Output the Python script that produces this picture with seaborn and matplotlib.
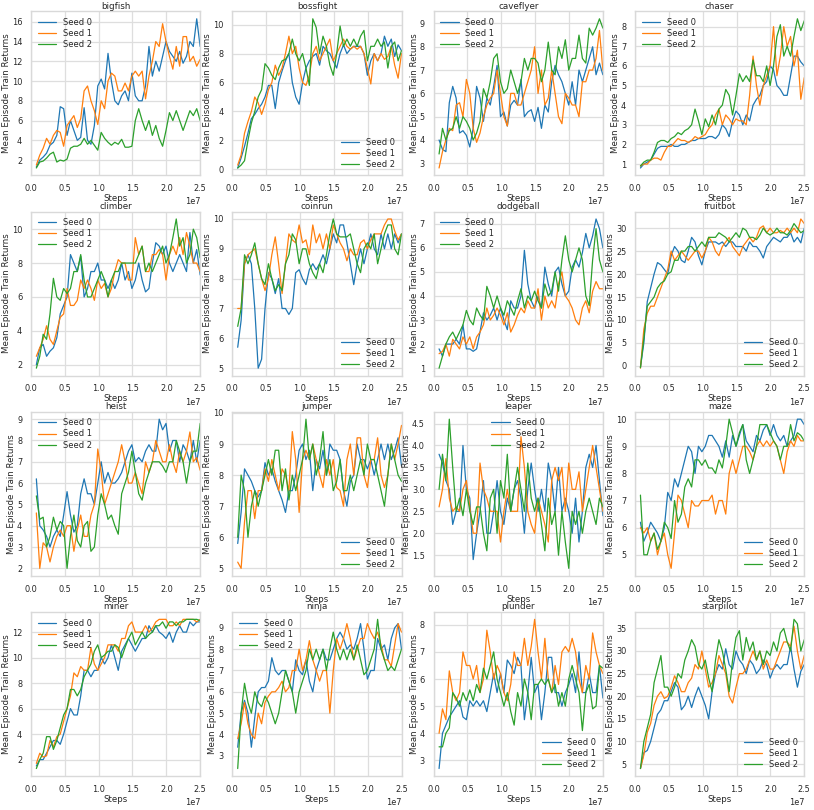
import numpy as np
import pandas as pd
import matplotlib
matplotlib.use("Agg")
import matplotlib.pyplot as plt
import seaborn as sns

envs = ["bigfish", "bossfight", "caveflyer", "chaser", "climber", "coinrun",
        "dodgeball", "fruitbot", "heist", "jumper", "leaper", "maze",
        "miner", "ninja", "plunder", "starpilot"]
seed_labels = ["Seed 0", "Seed 1", "Seed 2"]
seed_colors = ["#1f77b4", "#ff7f0e", "#2ca02c"]
legend_locs = ["upper left", "lower right", "upper left", "upper left",
               "upper left", "lower right", "upper left", "lower right",
               "upper left", "lower right", "upper center", "lower right",
               "upper left", "upper left", "lower right", "lower right"]

steps = np.linspace(0.08e7, 2.5e7, 49)

bigfish_s0 = [1.3, 2.0, 2.3, 2.7, 3.5, 3.8, 4.5, 7.4, 7.2, 4.5, 6.0, 5.0, 4.0, 4.3, 7.3,
              4.0, 3.6, 5.5, 9.5, 10.2, 9.2, 12.8, 10.0, 8.0, 7.6, 8.5, 9.0, 8.0, 10.8, 8.5,
              8.0, 8.0, 9.5, 13.5, 10.5, 12.0, 11.0, 12.5, 14.0, 13.0, 12.5, 12.0, 13.0, 11.8, 12.5,
              14.0, 13.5, 16.3, 13.5]
bigfish_s1 = [1.5, 2.5, 3.2, 4.2, 3.6, 4.5, 5.0, 4.8, 3.4, 5.5, 6.0, 6.5, 5.3, 6.2, 9.0,
              9.5, 8.0, 7.0, 5.6, 8.0, 7.2, 10.0, 10.8, 10.5, 9.0, 9.0, 9.8, 9.0, 10.5, 11.0,
              10.5, 11.0, 8.2, 10.5, 12.0, 14.0, 13.5, 15.8, 14.0, 12.5, 11.2, 13.5, 11.5, 14.5, 14.5,
              12.0, 12.5, 11.5, 12.2]
bigfish_s2 = [1.2, 1.8, 1.9, 2.2, 2.6, 2.8, 1.8, 2.0, 1.9, 2.1, 3.2, 3.4, 3.4, 3.6, 4.2,
              3.6, 4.0, 3.5, 3.0, 4.8, 4.2, 3.8, 3.5, 3.8, 3.6, 4.1, 3.3, 3.3, 3.4, 6.0,
              7.2, 6.0, 5.0, 6.0, 4.5, 5.5, 4.2, 3.4, 5.0, 6.8, 6.0, 7.0, 6.0, 5.0, 6.0,
              7.0, 6.5, 7.2, 6.0]

bossfight_s0 = [0.1, 0.8, 1.6, 2.5, 3.5, 3.8, 4.2, 4.5, 5.0, 5.8, 5.8, 4.2, 6.0, 6.8, 7.5,
                8.0, 6.0, 5.0, 4.5, 6.0, 7.0, 7.5, 7.8, 8.0, 7.2, 8.5, 8.2, 8.0, 7.5, 7.0,
                8.0, 8.6, 8.0, 8.3, 8.5, 8.5, 8.5, 8.0, 6.5, 7.5, 8.0, 7.5, 8.0, 9.2, 8.5,
                9.0, 7.8, 8.6, 8.2]
bossfight_s1 = [0.3, 1.0, 2.5, 3.3, 4.0, 5.0, 4.6, 3.8, 4.5, 5.5, 6.0, 7.2, 6.5, 7.0, 8.0,
                9.2, 8.0, 8.5, 7.0, 6.0, 5.8, 6.5, 8.0, 8.5, 7.5, 8.0, 8.5, 9.0, 7.5, 8.0,
                8.5, 9.0, 8.5, 8.3, 8.5, 8.3, 8.5, 8.0, 7.0, 5.9, 8.0, 7.5, 8.0, 7.6, 7.8,
                8.5, 7.2, 6.3, 8.0]
bossfight_s2 = [0.1, 0.3, 0.6, 2.0, 3.2, 4.0, 5.0, 5.5, 7.3, 7.0, 6.5, 6.2, 7.0, 7.5, 7.6,
                8.0, 9.0, 8.0, 7.5, 8.0, 7.0, 5.8, 10.4, 9.8, 8.0, 9.2, 8.5, 7.2, 6.5, 8.0,
                9.9, 8.5, 9.0, 8.5, 9.0, 8.5, 9.2, 9.6, 7.5, 8.5, 8.5, 9.0, 8.5, 8.8, 7.0,
                8.5, 8.8, 7.5, 8.2]

caveflyer_s0 = [4.0, 3.6, 3.5, 5.6, 6.3, 5.8, 4.3, 4.4, 4.2, 3.7, 4.5, 6.3, 5.8, 4.8, 5.8,
                5.5, 6.3, 7.2, 5.0, 5.2, 4.6, 5.5, 5.7, 5.5, 6.6, 5.0, 5.2, 5.3, 4.8, 5.4,
                4.5, 5.5, 5.2, 6.5, 7.2, 6.8, 6.5, 6.0, 5.5, 6.5, 5.5, 7.0, 6.5, 7.0, 7.5,
                8.0, 6.8, 7.3, 6.8]
caveflyer_s1 = [2.8, 3.5, 4.0, 4.5, 4.4, 5.5, 5.6, 5.0, 6.6, 6.0, 4.5, 3.9, 4.3, 5.0, 5.5,
                5.8, 6.0, 7.0, 6.0, 5.0, 4.6, 6.0, 6.0, 5.5, 5.5, 6.0, 6.5, 7.0, 8.0, 6.0,
                7.0, 5.5, 5.8, 7.0, 6.0, 5.0, 4.7, 6.0, 5.8, 5.5, 5.5, 5.0, 6.5, 6.5, 7.0,
                7.0, 7.5, 8.7, 7.0]
caveflyer_s2 = [3.4, 4.5, 4.0, 4.4, 4.5, 5.0, 4.5, 5.0, 4.8, 4.5, 4.0, 4.3, 4.8, 6.2, 5.8,
                6.5, 7.5, 7.7, 6.5, 6.0, 6.2, 7.0, 6.5, 6.0, 6.5, 7.5, 7.0, 7.5, 7.5, 7.3,
                6.5, 7.0, 8.2, 7.0, 6.8, 8.0, 7.5, 8.3, 7.0, 7.5, 7.5, 8.5, 7.5, 7.3, 8.8,
                8.5, 8.8, 9.2, 8.8]

chaser_s0 = [0.8, 1.0, 1.1, 1.2, 1.5, 1.8, 1.9, 1.9, 1.9, 2.0, 1.9, 1.9, 2.0, 2.0, 2.1,
             2.2, 2.2, 2.3, 2.3, 2.3, 2.4, 2.4, 2.3, 2.5, 3.0, 2.8, 2.4, 3.2, 3.7, 3.5,
             3.0, 3.5, 3.2, 4.0, 4.3, 4.5, 5.0, 5.2, 6.0, 5.8, 5.0, 4.8, 4.5, 4.5, 5.5,
             6.5, 6.5, 6.2, 6.0]
chaser_s1 = [0.9, 1.0, 1.0, 1.2, 1.3, 1.3, 1.2, 1.6, 1.9, 1.9, 2.1, 2.3, 2.2, 2.2, 2.1,
             2.2, 2.4, 2.3, 2.4, 2.5, 2.8, 3.0, 3.5, 3.8, 3.0, 3.5, 3.3, 3.0, 3.3, 3.2,
             3.2, 3.0, 4.5, 6.5, 5.0, 4.0, 5.0, 5.5, 6.0, 8.0, 5.5, 6.5, 8.0, 7.0, 7.5,
             6.0, 6.8, 4.3, 5.4]
chaser_s2 = [0.9, 1.1, 1.2, 1.2, 1.6, 2.1, 2.2, 2.2, 2.1, 2.3, 2.4, 2.6, 2.5, 2.7, 2.8,
             3.0, 3.8, 3.2, 2.5, 3.3, 2.9, 3.5, 3.0, 3.8, 4.0, 4.8, 4.5, 3.5, 4.5, 5.6,
             5.2, 5.5, 5.2, 6.3, 5.5, 5.5, 5.2, 6.0, 5.0, 6.0, 7.5, 8.1, 6.5, 7.0, 6.5,
             7.5, 8.4, 7.8, 8.3]

climber_s0 = [2.0, 3.0, 3.2, 2.5, 2.8, 3.0, 3.6, 5.0, 5.5, 6.0, 8.5, 8.0, 7.5, 8.4, 6.0,
              6.5, 7.5, 7.5, 8.0, 7.0, 7.0, 6.5, 7.0, 6.5, 7.0, 8.0, 7.0, 7.5, 6.5, 7.0,
              8.0, 7.0, 6.3, 6.5, 8.0, 9.2, 9.0, 8.5, 9.0, 8.0, 7.5, 8.0, 8.5, 8.0, 7.5,
              9.8, 8.0, 8.8, 7.3]
climber_s1 = [2.5, 3.0, 3.5, 4.3, 3.5, 3.2, 4.0, 4.8, 5.0, 6.5, 5.5, 5.5, 5.8, 7.0, 6.5,
              7.0, 6.5, 5.8, 7.0, 6.5, 6.8, 6.0, 6.5, 7.5, 8.2, 8.0, 8.0, 7.0, 7.0, 9.5,
              8.5, 9.0, 7.5, 7.5, 8.5, 8.5, 8.8, 8.5, 7.0, 8.5, 9.0, 8.5, 9.5, 8.5, 9.8,
              9.0, 8.0, 8.0, 7.5]
climber_s2 = [1.8, 2.5, 3.8, 3.5, 5.0, 7.1, 6.0, 5.8, 6.5, 6.2, 6.5, 7.5, 7.5, 8.5, 7.0,
              6.0, 6.0, 6.5, 7.0, 7.5, 7.0, 6.0, 7.0, 7.5, 7.5, 8.0, 8.0, 8.0, 8.0, 8.0,
              8.5, 9.0, 7.5, 8.0, 7.5, 8.0, 8.5, 9.0, 8.0, 8.5, 9.5, 10.6, 9.0, 9.5, 8.0,
              8.5, 10.0, 9.5, 8.3]

coinrun_s0 = [5.7, 6.6, 8.5, 8.8, 8.5, 7.0, 5.0, 5.3, 7.0, 8.2, 8.0, 7.5, 8.0, 7.0, 7.0,
              6.8, 7.0, 8.2, 8.3, 8.0, 7.8, 8.3, 8.5, 8.3, 8.5, 8.8, 8.5, 9.0, 9.5, 9.2,
              9.8, 9.8, 9.2, 8.5, 7.8, 8.5, 9.0, 8.5, 9.0, 9.5, 9.0, 8.8, 9.5, 9.0, 9.5,
              9.0, 9.5, 9.2, 9.5]
coinrun_s1 = [7.0, 7.0, 8.5, 8.8, 8.9, 9.0, 8.5, 8.0, 7.6, 8.0, 8.8, 9.4, 8.5, 7.5, 8.5,
              9.5, 9.3, 9.2, 9.8, 9.2, 9.3, 8.8, 9.8, 9.2, 9.5, 9.0, 9.5, 9.0, 9.8, 9.5,
              9.2, 9.0, 8.6, 9.0, 8.8, 8.8, 9.2, 9.3, 9.0, 9.3, 9.5, 9.5, 9.5, 9.8, 10.0,
              10.0, 9.6, 9.3, 9.5]
coinrun_s2 = [6.4, 7.0, 8.8, 8.5, 8.8, 9.2, 8.5, 8.0, 7.8, 8.5, 8.0, 7.6, 7.8, 7.6, 8.5,
              8.8, 9.5, 9.3, 8.5, 9.0, 9.0, 8.5, 8.2, 8.0, 8.5, 8.2, 8.8, 9.5, 10.0, 9.5,
              9.4, 9.4, 9.4, 9.5, 9.0, 8.5, 8.2, 9.0, 9.2, 9.0, 9.5, 8.5, 9.0, 9.5, 9.8,
              9.8, 9.0, 8.8, 9.5]

dodgeball_s0 = [1.8, 1.5, 2.0, 2.0, 2.0, 2.2, 2.0, 2.8, 1.8, 1.8, 1.7, 1.8, 2.5, 3.3, 3.0,
                3.2, 3.5, 3.0, 3.5, 3.0, 2.6, 3.8, 3.5, 3.5, 4.0, 5.9, 4.5, 3.8, 3.5, 4.0,
                3.5, 5.2, 4.5, 4.0, 5.0, 5.2, 4.5, 4.0, 4.2, 5.2, 5.5, 5.2, 5.8, 6.6, 6.0,
                6.5, 7.2, 6.8, 6.0]
dodgeball_s1 = [1.6, 1.7, 2.0, 1.5, 2.2, 2.0, 1.8, 2.3, 2.0, 2.3, 1.8, 2.3, 2.5, 2.8, 3.5,
                3.0, 3.2, 3.5, 3.2, 2.8, 3.3, 2.5, 2.8, 3.2, 3.5, 3.3, 3.8, 3.5, 3.5, 4.3,
                3.0, 4.0, 3.5, 3.8, 3.5, 4.5, 5.0, 4.0, 3.8, 3.5, 3.0, 2.8, 3.5, 3.8, 3.3,
                4.2, 4.6, 4.3, 4.3]
dodgeball_s2 = [1.0, 1.5, 2.0, 2.3, 2.5, 2.2, 2.5, 2.8, 3.4, 3.0, 2.8, 3.5, 3.2, 3.0, 4.4,
                4.0, 3.5, 4.0, 3.5, 3.2, 3.8, 3.5, 3.2, 3.8, 4.3, 3.5, 4.0, 3.8, 4.2, 3.8,
                3.5, 4.5, 4.0, 4.2, 5.0, 4.2, 5.5, 6.5, 5.5, 5.0, 5.5, 6.0, 5.5, 4.0, 3.6,
                5.5, 6.8, 5.5, 5.0]

fruitbot_s0 = [-0.3, 5.0, 14.0, 17.0, 20.0, 22.5, 22.0, 21.0, 20.0, 24.0, 26.0, 25.0, 23.0, 22.5, 25.0,
               28.0, 27.0, 24.0, 22.0, 25.0, 27.0, 27.0, 27.0, 26.5, 27.0, 26.0, 27.0, 27.0, 26.0, 26.0,
               26.0, 25.0, 27.0, 26.0, 26.0, 25.0, 23.5, 26.0, 27.0, 28.0, 27.5, 27.0, 28.0, 28.0, 29.0,
               27.0, 28.0, 26.8, 30.0]
fruitbot_s1 = [-0.5, 8.0, 11.5, 13.0, 13.0, 15.0, 17.0, 19.0, 21.0, 25.0, 23.0, 24.0, 25.0, 24.0, 23.0,
               24.0, 25.0, 25.0, 23.5, 25.0, 28.0, 27.0, 25.0, 24.0, 26.0, 27.0, 28.0, 26.0, 25.0, 24.0,
               26.0, 27.0, 28.0, 27.0, 28.0, 30.0, 30.5, 29.0, 30.0, 29.0, 29.0, 29.5, 29.0, 30.0, 29.0,
               30.0, 29.0, 32.0, 31.0]
fruitbot_s2 = [-0.4, 6.0, 13.0, 14.0, 15.0, 17.0, 18.0, 18.5, 20.0, 20.5, 23.0, 23.0, 25.0, 25.0, 26.0,
               26.0, 25.0, 26.0, 27.0, 26.0, 28.0, 28.0, 28.0, 29.0, 28.5, 28.0, 27.0, 28.0, 29.0, 28.0,
               30.0, 29.5, 28.0, 28.0, 27.5, 28.5, 30.0, 29.0, 28.5, 29.0, 30.0, 29.0, 29.0, 28.5, 29.5,
               31.0, 30.0, 29.0, 29.5]

heist_s0 = [6.2, 4.0, 3.8, 3.5, 3.0, 3.5, 3.8, 3.5, 4.5, 5.6, 4.5, 3.7, 4.0, 5.5, 6.2,
            5.5, 5.5, 5.0, 6.0, 7.0, 6.0, 6.5, 6.0, 6.0, 6.2, 6.5, 7.0, 7.5, 7.8, 7.0,
            7.2, 7.0, 7.5, 7.8, 7.5, 7.5, 9.0, 8.5, 8.8, 7.5, 8.0, 8.0, 7.0, 7.8, 7.5,
            7.0, 8.0, 7.0, 8.0]
heist_s1 = [4.6, 2.0, 3.2, 3.0, 2.3, 3.0, 3.5, 3.8, 3.5, 4.0, 4.0, 2.8, 3.8, 4.5, 3.5,
            3.5, 4.5, 5.0, 7.6, 6.5, 5.0, 5.5, 6.0, 6.5, 7.0, 7.8, 7.0, 6.0, 6.0, 6.5,
            6.0, 5.5, 7.0, 6.5, 7.0, 8.0, 7.5, 7.0, 7.0, 7.8, 7.0, 6.5, 7.5, 7.0, 7.5,
            8.4, 7.0, 7.2, 6.6]
heist_s2 = [5.4, 4.3, 4.4, 3.0, 3.5, 4.4, 3.8, 4.2, 4.0, 2.0, 3.5, 4.5, 3.3, 3.0, 4.0,
            4.2, 2.8, 3.0, 4.5, 5.5, 5.0, 4.3, 4.5, 4.0, 3.6, 5.5, 6.0, 6.5, 7.5, 6.5,
            5.5, 5.2, 6.0, 6.5, 7.0, 7.0, 7.0, 6.8, 6.5, 7.0, 7.0, 8.0, 7.5, 7.0, 6.0,
            7.0, 7.5, 7.5, 8.8]

jumper_s0 = [5.8, 6.8, 8.2, 8.0, 7.8, 7.5, 7.3, 7.5, 8.4, 8.0, 8.2, 7.8, 7.5, 7.2, 6.8,
             7.5, 7.5, 8.0, 8.8, 9.0, 8.5, 8.8, 7.5, 8.5, 8.2, 8.8, 8.0, 9.0, 8.8, 8.8,
             8.5, 7.5, 7.0, 7.8, 8.0, 9.0, 8.5, 8.5, 8.2, 8.5, 8.0, 8.5, 9.0, 8.5, 9.0,
             8.5, 8.8, 9.2, 8.3]
jumper_s1 = [5.2, 5.0, 6.5, 7.5, 7.5, 6.6, 7.5, 7.5, 8.2, 7.8, 8.5, 8.0, 7.5, 8.2, 8.0,
             7.5, 9.4, 8.5, 6.8, 8.5, 8.8, 8.5, 9.0, 8.5, 8.0, 7.6, 8.5, 8.0, 8.5, 7.6,
             7.5, 7.0, 8.5, 9.0, 8.0, 9.2, 9.2, 8.0, 7.6, 8.5, 8.5, 9.2, 8.0, 7.6, 8.0,
             9.0, 8.5, 9.0, 9.6]
jumper_s2 = [6.0, 8.0, 7.5, 6.0, 7.0, 7.5, 7.0, 7.5, 8.0, 8.5, 8.0, 8.8, 8.8, 7.5, 8.2,
             7.2, 8.0, 7.5, 8.0, 8.5, 9.8, 8.5, 9.0, 8.0, 8.5, 9.4, 8.0, 8.5, 7.5, 7.8,
             8.5, 7.5, 7.5, 8.0, 7.5, 8.0, 8.5, 8.0, 9.0, 8.5, 8.5, 8.0, 7.5, 7.0, 8.0,
             9.0, 8.5, 8.0, 7.8]

leaper_s0 = [3.8, 3.6, 3.2, 3.0, 2.2, 2.5, 2.5, 4.0, 3.0, 2.8, 1.4, 2.0, 2.5, 3.2, 2.0,
             2.0, 2.5, 3.2, 2.5, 2.2, 2.8, 2.5, 3.0, 3.2, 2.8, 2.0, 3.0, 3.6, 3.0, 2.5,
             3.0, 2.5, 3.6, 3.2, 2.5, 3.5, 2.5, 2.8, 2.5, 2.0, 2.8, 1.8, 2.5, 3.5, 3.8,
             3.5, 4.0, 3.2, 2.4]
leaper_s1 = [2.6, 3.0, 3.7, 2.8, 2.5, 2.6, 2.5, 3.0, 3.2, 2.6, 2.0, 2.0, 3.6, 3.0, 2.8,
             2.5, 2.5, 2.5, 1.8, 2.5, 3.0, 2.5, 2.5, 2.5, 4.2, 3.5, 2.5, 2.2, 2.0, 2.8,
             2.5, 2.2, 1.8, 3.2, 3.5, 3.2, 3.5, 2.5, 3.6, 3.0, 3.0, 3.4, 2.5, 3.0, 3.5,
             4.0, 3.5, 3.0, 2.5]
leaper_s2 = [3.0, 3.8, 3.2, 4.6, 3.5, 2.5, 2.8, 2.4, 3.0, 2.5, 2.2, 2.6, 2.6, 2.0, 1.6,
             2.8, 3.0, 2.0, 3.2, 2.8, 3.8, 2.5, 3.0, 3.5, 3.0, 2.5, 3.6, 2.8, 2.5, 2.8,
             2.2, 1.6, 2.8, 2.2, 2.5, 1.5, 2.5, 1.8, 1.2, 2.5, 2.2, 2.5, 2.0, 2.5, 2.8,
             2.5, 2.2, 2.8, 2.6]

maze_s0 = [6.2, 5.5, 5.8, 6.2, 6.0, 5.8, 5.5, 6.0, 7.3, 7.0, 7.8, 7.5, 8.0, 8.5, 9.0,
           8.8, 8.0, 9.0, 8.8, 9.0, 9.4, 9.4, 9.2, 9.0, 8.6, 9.2, 8.6, 9.4, 9.0, 9.4,
           9.8, 9.2, 9.0, 8.8, 9.4, 9.2, 9.6, 9.8, 9.4, 9.8, 9.4, 9.2, 9.4, 9.0, 9.2,
           9.4, 10.0, 10.0, 9.8]
maze_s1 = [6.0, 5.8, 6.0, 5.5, 5.8, 5.0, 5.5, 5.8, 5.0, 4.5, 5.8, 7.2, 7.0, 6.5, 6.0,
           7.0, 6.8, 6.8, 7.0, 7.0, 7.0, 7.2, 6.5, 7.0, 7.0, 6.5, 8.0, 8.5, 8.0, 8.5,
           9.0, 9.0, 8.8, 8.5, 9.0, 9.2, 9.0, 9.2, 9.0, 9.2, 9.0, 8.5, 8.0, 8.8, 9.2,
           9.0, 9.4, 9.2, 9.2]
maze_s2 = [7.2, 5.0, 5.0, 5.5, 5.8, 5.2, 5.5, 6.2, 6.0, 5.6, 7.0, 6.2, 6.5, 7.5, 7.8,
           7.5, 8.5, 8.5, 8.3, 8.5, 8.2, 8.2, 8.0, 8.5, 8.2, 9.0, 10.0, 9.5, 9.0, 9.5,
           9.8, 8.5, 8.0, 8.5, 9.0, 9.8, 9.8, 9.8, 9.5, 9.2, 9.0, 8.5, 9.0, 9.0, 9.8,
           9.2, 9.5, 9.4, 9.2]

miner_s0 = [1.5, 2.0, 2.0, 2.5, 3.0, 3.5, 3.5, 3.2, 4.0, 5.0, 6.0, 5.5, 5.5, 7.0, 9.0,
            9.0, 8.5, 9.0, 9.0, 10.0, 9.5, 10.0, 11.0, 10.0, 9.0, 10.5, 11.0, 11.5, 11.0, 10.5,
            11.0, 11.5, 11.5, 12.5, 12.0, 12.5, 12.0, 11.8, 11.5, 12.0, 11.2, 12.0, 12.5, 12.0, 12.0,
            12.8, 12.5, 12.8, 12.8]
miner_s1 = [1.7, 2.5, 2.2, 2.3, 3.5, 3.0, 3.8, 4.0, 5.0, 6.0, 7.0, 8.8, 8.5, 9.3, 9.0,
            9.0, 10.8, 9.5, 9.0, 9.5, 10.0, 11.0, 11.0, 11.0, 10.5, 11.5, 11.5, 12.5, 12.8, 12.0,
            12.0, 12.0, 12.5, 12.0, 12.3, 12.8, 13.0, 13.0, 13.0, 12.5, 12.5, 12.8, 12.5, 13.0, 13.0,
            13.0, 13.0, 12.8, 13.0]
miner_s2 = [1.3, 2.0, 2.5, 3.8, 3.8, 2.8, 3.5, 4.5, 5.5, 6.0, 7.5, 7.5, 7.0, 7.5, 8.5,
            9.0, 9.5, 10.5, 11.0, 10.0, 10.2, 10.5, 10.5, 11.0, 10.8, 10.0, 10.8, 11.5, 12.0, 11.0,
            11.5, 12.0, 11.5, 11.8, 12.0, 12.5, 12.5, 12.8, 12.3, 12.8, 12.8, 12.5, 12.8, 12.8, 13.0,
            13.0, 13.0, 13.0, 12.9]

ninja_s0 = [3.4, 5.0, 5.6, 5.0, 3.4, 4.8, 6.0, 6.2, 6.2, 6.5, 7.6, 7.0, 6.8, 7.0, 7.0,
            6.5, 6.0, 7.5, 7.0, 6.8, 7.5, 6.5, 6.0, 7.0, 7.5, 8.0, 7.5, 7.5, 8.0, 8.5,
            8.8, 8.5, 8.0, 8.2, 8.0, 8.5, 9.2, 8.0, 6.6, 7.0, 7.0, 8.5, 8.0, 8.2, 7.5,
            8.5, 9.0, 9.2, 8.0]
ninja_s1 = [3.8, 4.5, 5.5, 4.5, 4.0, 3.8, 5.0, 4.5, 5.5, 5.8, 6.0, 6.0, 6.2, 6.5, 6.0,
            6.2, 7.0, 7.0, 8.0, 7.0, 7.5, 8.4, 7.5, 7.0, 6.5, 7.0, 7.0, 5.0, 7.0, 8.5,
            8.0, 8.5, 9.2, 8.5, 7.5, 8.0, 8.5, 8.5, 9.2, 8.8, 8.5, 8.8, 8.2, 7.5, 7.5,
            7.2, 8.2, 9.2, 8.8]
ninja_s2 = [2.4, 5.0, 6.4, 5.5, 5.0, 6.0, 5.5, 5.3, 5.8, 5.5, 5.0, 4.5, 5.0, 6.0, 7.0,
            6.5, 6.0, 5.0, 6.0, 6.5, 7.0, 8.0, 7.5, 8.0, 7.5, 8.0, 7.0, 8.0, 8.8, 8.0,
            7.5, 8.0, 7.5, 8.0, 7.5, 8.2, 7.5, 6.8, 7.0, 7.5, 8.0, 9.4, 8.0, 7.5, 7.0,
            7.2, 7.0, 7.5, 8.0]

plunder_s0 = [2.7, 4.0, 4.3, 4.6, 4.8, 5.0, 5.2, 4.6, 4.5, 5.2, 5.0, 5.2, 5.0, 5.2, 4.8,
              5.5, 6.2, 5.5, 6.2, 5.5, 6.7, 6.5, 6.2, 6.8, 6.5, 4.5, 5.5, 6.8, 5.5, 5.8,
              4.5, 5.5, 6.8, 6.8, 5.5, 5.5, 5.0, 5.5, 5.8, 6.2, 5.5, 7.0, 5.5, 5.5, 6.2,
              5.5, 5.5, 6.5, 5.3]
plunder_s1 = [4.0, 4.9, 4.5, 6.3, 5.5, 5.2, 5.5, 7.0, 6.5, 6.5, 6.0, 6.5, 5.5, 6.0, 7.8,
              7.0, 6.0, 6.5, 6.2, 5.5, 5.2, 5.8, 7.0, 6.5, 6.5, 7.5, 6.5, 7.2, 8.2, 7.0,
              6.0, 7.5, 6.0, 5.5, 6.5, 5.8, 7.0, 7.2, 7.0, 7.5, 7.0, 6.0, 5.5, 6.5, 6.0,
              7.7, 7.0, 6.5, 6.2]
plunder_s2 = [3.5, 3.5, 4.0, 4.2, 5.5, 5.3, 5.0, 5.5, 5.2, 5.6, 5.2, 5.8, 5.5, 6.4, 6.0,
              6.5, 7.0, 6.0, 5.5, 5.0, 5.5, 4.8, 4.3, 5.5, 5.0, 6.0, 5.5, 4.5, 5.8, 5.8,
              6.0, 5.8, 6.0, 5.5, 5.8, 5.0, 5.5, 5.0, 6.0, 6.5, 6.0, 5.5, 4.1, 5.5, 5.8,
              4.9, 5.0, 6.5, 6.4]

starpilot_s0 = [4.0, 7.5, 8.0, 10.0, 13.0, 16.0, 17.0, 19.0, 19.0, 21.0, 23.0, 22.0, 17.0, 18.0, 20.0,
                17.5, 20.0, 22.0, 20.0, 18.0, 15.0, 21.0, 25.0, 27.0, 26.0, 30.5, 27.0, 26.0, 30.0, 28.0,
                27.0, 25.0, 28.0, 27.0, 25.0, 26.0, 28.0, 27.0, 24.0, 26.0, 27.0, 26.0, 27.0, 27.0, 31.0,
                26.0, 22.0, 25.5, 27.0]
starpilot_s1 = [4.0, 7.0, 12.0, 14.0, 18.0, 20.0, 21.0, 19.5, 20.0, 22.0, 24.5, 23.0, 21.0, 21.0, 23.0,
                24.0, 27.0, 26.0, 30.0, 26.0, 22.0, 23.0, 25.0, 29.0, 27.0, 25.0, 20.0, 18.5, 22.0, 25.0,
                25.0, 26.0, 28.0, 30.0, 28.0, 30.0, 26.0, 28.0, 26.0, 26.0, 28.0, 30.0, 32.0, 32.0, 31.0,
                35.5, 30.0, 26.0, 29.0]
starpilot_s2 = [4.0, 10.0, 13.0, 16.0, 23.0, 26.0, 29.0, 22.0, 22.0, 20.0, 22.0, 25.0, 24.0, 28.0, 30.0,
                32.5, 31.0, 27.0, 26.0, 28.0, 24.0, 21.0, 28.0, 32.5, 30.0, 26.0, 21.0, 28.0, 33.0, 34.5,
                28.0, 33.0, 30.0, 32.0, 28.0, 30.0, 27.0, 30.0, 29.0, 32.0, 30.0, 34.0, 35.0, 32.0, 30.0,
                37.0, 36.0, 30.0, 32.5]

series = {
    "bigfish": [bigfish_s0, bigfish_s1, bigfish_s2],
    "bossfight": [bossfight_s0, bossfight_s1, bossfight_s2],
    "caveflyer": [caveflyer_s0, caveflyer_s1, caveflyer_s2],
    "chaser": [chaser_s0, chaser_s1, chaser_s2],
    "climber": [climber_s0, climber_s1, climber_s2],
    "coinrun": [coinrun_s0, coinrun_s1, coinrun_s2],
    "dodgeball": [dodgeball_s0, dodgeball_s1, dodgeball_s2],
    "fruitbot": [fruitbot_s0, fruitbot_s1, fruitbot_s2],
    "heist": [heist_s0, heist_s1, heist_s2],
    "jumper": [jumper_s0, jumper_s1, jumper_s2],
    "leaper": [leaper_s0, leaper_s1, leaper_s2],
    "maze": [maze_s0, maze_s1, maze_s2],
    "miner": [miner_s0, miner_s1, miner_s2],
    "ninja": [ninja_s0, ninja_s1, ninja_s2],
    "plunder": [plunder_s0, plunder_s1, plunder_s2],
    "starpilot": [starpilot_s0, starpilot_s1, starpilot_s2],
}

sns.set_theme(style="whitegrid", context="paper")
plt.rcParams["font.family"] = ["DejaVu Sans"]
plt.rcParams.update({
    "axes.titlesize": 6.3, "axes.labelsize": 6.2,
    "xtick.labelsize": 5.9, "ytick.labelsize": 5.9,
    "legend.fontsize": 6.0, "axes.edgecolor": "0.85",
    "grid.color": "0.87", "grid.linewidth": 0.9,
    "xtick.major.pad": 1.5, "ytick.major.pad": 1.5,
    "axes.titlepad": 2.0, "axes.labelpad": 0.8,
})

fig, axes = plt.subplots(4, 4, figsize=(8.14, 8.10), dpi=100)
fig.subplots_adjust(left=0.038, right=0.988, top=0.986, bottom=0.042,
                    wspace=0.19, hspace=0.22)

for ax, env, loc in zip(axes.flat, envs, legend_locs):
    for vals, lab, col in zip(series[env], seed_labels, seed_colors):
        df = pd.DataFrame({"Steps": steps, "Return": vals})
        sns.lineplot(data=df, x="Steps", y="Return", ax=ax, color=col,
                     label=lab, linewidth=0.9, estimator=None)
    ax.set_xlim(0, 2.5e7)
    ax.set_xticks([0, 0.5e7, 1.0e7, 1.5e7, 2.0e7, 2.5e7])
    ax.set_title(env)
    ax.set_xlabel("Steps")
    ax.set_ylabel("Mean Episode Train Returns")
    ax.xaxis.get_offset_text().set_fontsize(5.9)
    ax.legend(loc=loc, frameon=False, handlelength=2.2,
              borderaxespad=0.4, labelspacing=0.25)

fig.savefig("out.png", dpi=100)
